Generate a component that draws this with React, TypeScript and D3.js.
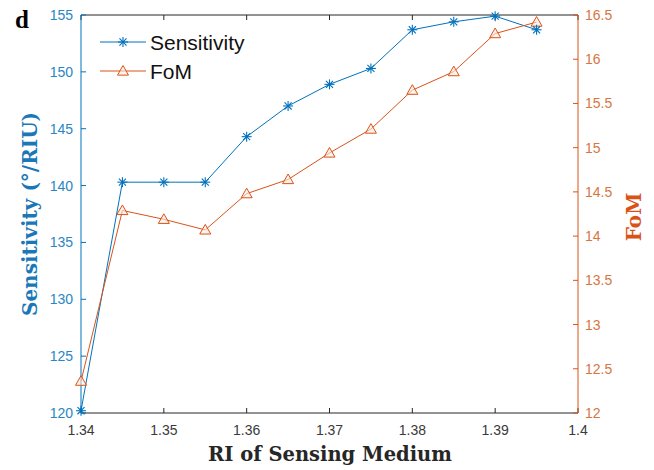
import React from "react";
import * as d3 from "d3";

// Refractive index of the sensing medium
const riValues = [1.34, 1.345, 1.35, 1.355, 1.36, 1.365, 1.37, 1.375, 1.38, 1.385, 1.39, 1.395];
// Sensitivity (deg/RIU)
const sensitivity = [120.2, 140.3, 140.3, 140.3, 144.3, 147.0, 148.9, 150.3, 153.7, 154.4, 154.9, 153.7];
// Figure of merit
const fom = [12.36, 14.29, 14.19, 14.07, 14.48, 14.64, 14.94, 15.21, 15.65, 15.86, 16.29, 16.42];

const xTicks = [1.34, 1.35, 1.36, 1.37, 1.38, 1.39, 1.4];
const xTickLabels = ["1.34", "1.35", "1.36", "1.37", "1.38", "1.39", "1.4"];
const leftTicks = [120, 125, 130, 135, 140, 145, 150, 155];
const rightTicks = [12, 12.5, 13, 13.5, 14, 14.5, 15, 15.5, 16, 16.5];

const W = 654;
const H = 470;
const M = { left: 81, right: 578, top: 15, bottom: 413 };

const BLUE = "#0072BD";
const ORANGE = "#D95319";
const AXIS_DARK = "#262626";
const SANS = "Arial, 'Liberation Sans', Helvetica, sans-serif";
const SERIF = "'DejaVu Serif', 'Century Schoolbook', serif";

const x = d3.scaleLinear().domain([1.34, 1.4]).range([M.left, M.right]);
const yL = d3.scaleLinear().domain([120, 155]).range([M.bottom, M.top]);
const yR = d3.scaleLinear().domain([12, 16.5]).range([M.bottom, M.top]);

const Star = ({ cx, cy, r = 5 }: { cx: number; cy: number; r?: number }) => {
  const d = r * 0.7071;
  return (
    <g stroke={BLUE} strokeWidth={1.1}>
      <line x1={cx - r} y1={cy} x2={cx + r} y2={cy} />
      <line x1={cx} y1={cy - r} x2={cx} y2={cy + r} />
      <line x1={cx - d} y1={cy - d} x2={cx + d} y2={cy + d} />
      <line x1={cx - d} y1={cy + d} x2={cx + d} y2={cy - d} />
    </g>
  );
};

const Tri = ({ cx, cy, r = 5.5 }: { cx: number; cy: number; r?: number }) => {
  const pts = [
    [cx, cy - r],
    [cx + r, cy + r * 0.75],
    [cx - r, cy + r * 0.75],
  ]
    .map((p) => p.join(","))
    .join(" ");
  return <polygon points={pts} fill="#fbe9df" fillOpacity={0.6} stroke={ORANGE} strokeWidth={1} />;
};

export default function App() {
  const sensLine = d3
    .line<number>()
    .x((_, i) => x(riValues[i]))
    .y((d) => yL(d))(sensitivity) as string;
  const fomLine = d3
    .line<number>()
    .x((_, i) => x(riValues[i]))
    .y((d) => yR(d))(fom) as string;

  const tickLen = 5;

  return (
    <svg
      width={W}
      height={H}
      viewBox={`0 0 ${W} ${H}`}
      style={{ position: "absolute", left: 0, top: 0, background: "#fff" }}
    >
      <rect width={W} height={H} fill="#fff" />

      {/* panel letter */}
      <text x={15} y={28} fontFamily="'Liberation Serif', 'Times New Roman', serif" fontWeight="bold" fontSize={25} fill="#000">
        d
      </text>

      {/* top and bottom axes */}
      <line x1={M.left} y1={M.top} x2={M.right} y2={M.top} stroke={AXIS_DARK} strokeWidth={1} />
      <line x1={M.left} y1={M.bottom} x2={M.right} y2={M.bottom} stroke={AXIS_DARK} strokeWidth={1} />
      {xTicks.map((t, i) => (
        <g key={"xt" + i}>
          <line x1={x(t)} y1={M.bottom} x2={x(t)} y2={M.bottom - tickLen} stroke={AXIS_DARK} />
          <line x1={x(t)} y1={M.top} x2={x(t)} y2={M.top + tickLen} stroke={AXIS_DARK} />
          <text x={x(t)} y={M.bottom + 22} textAnchor="middle" fontFamily={SANS} fontSize={14} fill="#3a3a3a">
            {xTickLabels[i]}
          </text>
        </g>
      ))}

      {/* left axis */}
      <line x1={M.left} y1={M.top} x2={M.left} y2={M.bottom} stroke={BLUE} strokeWidth={1} />
      {leftTicks.map((t) => (
        <g key={"yl" + t}>
          <line x1={M.left} y1={yL(t)} x2={M.left + tickLen} y2={yL(t)} stroke={BLUE} />
          <text x={M.left - 8} y={yL(t) + 5} textAnchor="end" fontFamily={SANS} fontSize={14} fill="#2a86c4">
            {t}
          </text>
        </g>
      ))}

      {/* right axis */}
      <line x1={M.right} y1={M.top} x2={M.right} y2={M.bottom} stroke={ORANGE} strokeWidth={1} />
      {rightTicks.map((t) => (
        <g key={"yr" + t}>
          <line x1={M.right} y1={yR(t)} x2={M.right - tickLen} y2={yR(t)} stroke={ORANGE} />
          <text x={M.right + 7} y={yR(t) + 5} textAnchor="start" fontFamily={SANS} fontSize={14} fill="#d8763f">
            {t}
          </text>
        </g>
      ))}

      {/* series */}
      <path d={sensLine} fill="none" stroke={BLUE} strokeWidth={1} />
      <path d={fomLine} fill="none" stroke={ORANGE} strokeWidth={1} />
      {fom.map((v, i) => (
        <Tri key={"f" + i} cx={x(riValues[i])} cy={yR(v)} />
      ))}
      {sensitivity.map((v, i) => (
        <Star key={"s" + i} cx={x(riValues[i])} cy={yL(v)} />
      ))}

      {/* legend */}
      <line x1={100} y1={42} x2={146} y2={42} stroke={BLUE} />
      <Star cx={123} cy={42} />
      <text x={150} y={50} fontFamily={SANS} fontSize={21} fill="#111">
        Sensitivity
      </text>
      <line x1={100} y1={71} x2={146} y2={71} stroke={ORANGE} />
      <Tri cx={123} cy={71} />
      <text x={150} y={79} fontFamily={SANS} fontSize={21} fill="#111">
        FoM
      </text>

      {/* axis titles */}
      <text
        x={330}
        y={461}
        textAnchor="middle"
        fontFamily={SERIF}
        fontWeight="bold"
        fontSize={19.5}
        fill="#262626"
      >
        RI of Sensing Medium
      </text>
      <text
        transform={`translate(37, ${(M.top + M.bottom) / 2}) rotate(-90)`}
        textAnchor="middle"
        fontFamily={SERIF}
        fontWeight="bold"
        fontSize={20}
        fill="#1a78b8"
      >
        Sensitivity (°/RIU)
      </text>
      <text
        transform={`translate(641, 217) rotate(-90)`}
        textAnchor="middle"
        fontFamily={SERIF}
        fontWeight="bold"
        fontSize={20}
        fill={ORANGE}
      >
        FoM
      </text>
    </svg>
  );
}
